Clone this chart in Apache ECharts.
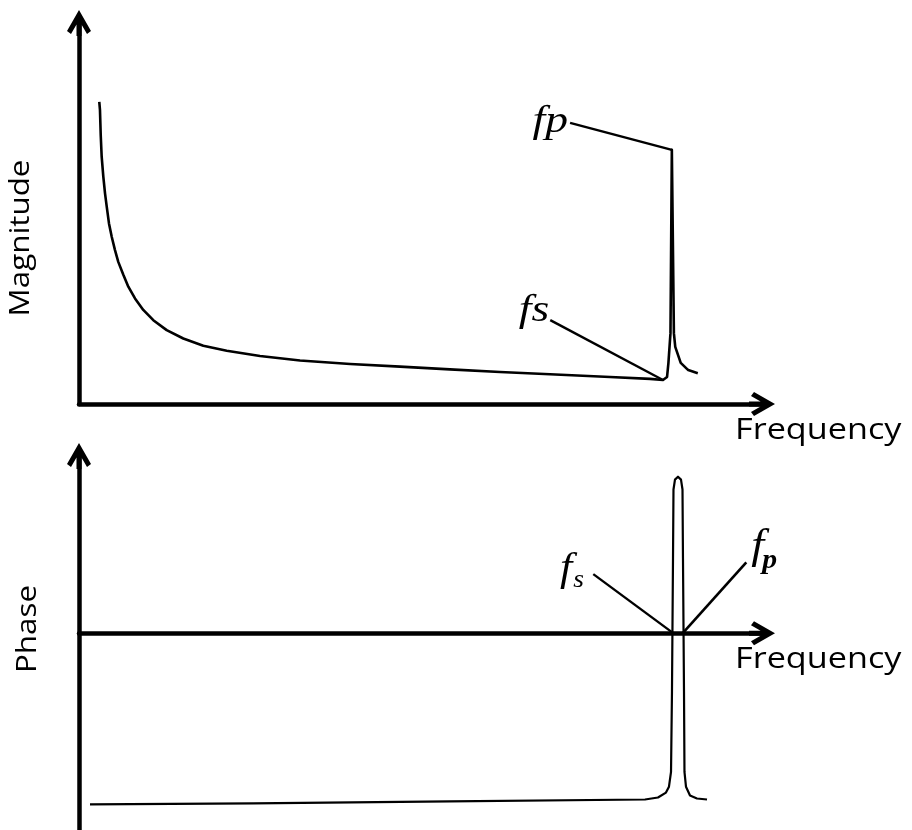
<!DOCTYPE html>
<html>
<head>
<meta charset="utf-8">
<script src="https://cdn.jsdelivr.net/npm/echarts@6/dist/echarts.min.js"></script>
<style>
  html, body { margin: 0; padding: 0; background: #fff; }
  #main { width: 912px; height: 830px; }
</style>
</head>
<body>
<div id="main"></div>
<script>
// Magnitude response of the resonator (arbitrary units)
const magFreq = [2.97, 3.07, 3.18, 3.32, 3.56, 3.81, 4.06, 4.39, 4.79, 5.27, 5.75, 6.49, 7.22, 8.2,
  9.41, 10.88, 12.84, 15.27, 18.2, 21.63, 26.5, 32.36, 39.7, 47.0, 54.3, 61.64, 68.96, 77.75, 83.6, 85.5,
  86.1, 86.3, 86.6, 86.8, 87.1, 87.3, 88.1, 89.2, 90.6];
const magValue = [79.3, 77.2, 70.6, 64.9, 59.7, 55.3, 51.8, 47.4, 43.9, 40.4, 37.3, 33.9, 30.8, 27.7,
  24.7, 22.0, 19.4, 17.2, 15.3, 14.0, 12.6, 11.4, 10.5, 9.8, 9.1, 8.4, 7.8, 7.1, 6.6, 6.3,
  7.1, 10.8, 18.6, 66.7, 18.6, 15.0, 10.8, 8.9, 8.1];

// Phase response (arbitrary units, zero on the frequency axis)
const phaseFreq = [1.61, 25.48, 54.3, 82.87, 84.77, 85.94, 86.38, 86.68, 86.82, 86.97, 87.04, 87.26,
  87.7, 88.14, 88.36, 88.43, 88.58, 88.65, 88.87, 89.46, 90.48, 91.95];
const phaseValue = [-87, -86.5, -85.5, -84.5, -83.5, -81, -78, -70.5, -29.5, 38, 73, 78,
  79.5, 78, 73, 38, -29.5, -70.5, -78, -82.5, -84, -84.5];

// Leader lines pointing at the series (fs) and parallel (fp) resonances: [freq, value]
const magFpLeader = [[71.9, 73.8], [86.8, 66.7]];
const magFsLeader = [[69.0, 22.0], [85.5, 6.3]];
const phaseFsLeader = [[75.3, 30], [87.0, 0]];
const phaseFpLeader = [[88.4, 0], [97.7, 36]];

// Axis titles
const magTitle = 'Magnitude';
const phaseTitle = 'Phase';
const freqTitle = 'Frequency';

const zip = (xs, ys) => xs.map((x, i) => [x, ys[i]]);

// open chevron arrow head with a short stem, pointing along the axis
const arrowHead = 'path://M13 0L25 21L21 24L15.5 14.4L15.5 26L10.5 26L10.5 14.4L5 24L1 21Z';

function makeAxis(gridIndex, min, max) {
  return {
    type: 'value', gridIndex, min, max,
    axisLine: {
      show: true, onZero: true,
      symbol: ['none', arrowHead], symbolSize: [24, 26],
      lineStyle: { color: '#000', width: 4.5 }
    },
    axisTick: { show: false },
    axisLabel: { show: false },
    splitLine: { show: false }
  };
}

function curve(data, gridIndex, width) {
  return {
    type: 'line', xAxisIndex: gridIndex, yAxisIndex: gridIndex,
    data, symbol: 'none', smooth: false,
    clip: false, silent: true,
    lineStyle: { color: '#000', width, join: 'round' }
  };
}

const chart = echarts.init(document.getElementById('main'), null, { renderer: 'canvas' });

chart.setOption({
  animation: false,
  backgroundColor: '#fff',
  grid: [
    { left: 79, right: 150, top: 23, bottom: 426 },
    { left: 79, right: 150, top: 456, bottom: -6 }
  ],
  xAxis: [makeAxis(0, 0, 100), makeAxis(1, 0, 100)],
  yAxis: [makeAxis(0, 0, 100), makeAxis(1, -100, 90)],
  series: [
    curve(zip(magFreq, magValue), 0, 2.6),
    curve(magFpLeader, 0, 2.4),
    curve(magFsLeader, 0, 2.4),
    curve(zip(phaseFreq, phaseValue), 1, 2.2),
    curve(phaseFsLeader, 1, 2.4),
    curve(phaseFpLeader, 1, 2.6)
  ]
});

// Text annotations, anchored on the leader-line ends
const at = (g, p) => chart.convertToPixel({ gridIndex: g }, p);
const serif = '"Liberation Serif", "DejaVu Serif", serif';
const sans = '"Open Sans", "Noto Sans", sans-serif';

function txt(text, x, y, font, align, extra) {
  return Object.assign({
    type: 'text', x, y, silent: true,
    style: { text, font, fill: '#000', align, verticalAlign: 'middle' }
  }, extra || {});
}

const pFpTop = at(0, magFpLeader[0]);
const pFsTop = at(0, magFsLeader[0]);
const pFsBot = at(1, phaseFsLeader[0]);
const pFpBot = at(1, phaseFpLeader[1]);
const xAxisTop = at(0, [100, 0]);
const xAxisBot = at(1, [100, 0]);

chart.setOption({
  graphic: [
    txt('fp', pFpTop[0] - 2, pFpTop[1] - 1, 'italic 38px ' + serif, 'right', { scaleX: 1.2 }),
    txt('fs', pFsTop[0] - 1, pFsTop[1] - 9, 'italic 38px ' + serif, 'right', { scaleX: 1.2 }),
    txt('f', pFsBot[0] - 21, pFsBot[1] - 5, 'italic 40px ' + serif, 'right', { scaleX: 1.1 }),
    txt('s', pFsBot[0] - 20, pFsBot[1] + 6, 'italic 25px ' + serif, 'left', { scaleX: 1.1 }),
    txt('f', pFpBot[0] + 5, pFpBot[1] - 15, 'italic 42px ' + serif, 'left', { scaleX: 1.1 }),
    txt('p', pFpBot[0] + 16, pFpBot[1] - 1, 'italic bold 27px ' + serif, 'left', { scaleX: 1.1 }),
    txt(freqTitle, xAxisTop[0] - 27, xAxisTop[1] + 26, '30px ' + sans, 'left', { scaleX: 1.14 }),
    txt(freqTitle, xAxisBot[0] - 27, xAxisBot[1] + 26, '30px ' + sans, 'left', { scaleX: 1.14 }),
    txt(magTitle, 21, 238, '27px ' + sans, 'center', { rotation: Math.PI / 2, scaleX: 1.16 }),
    txt(phaseTitle, 28, 629, '27px ' + sans, 'center', { rotation: Math.PI / 2, scaleX: 1.16 })
  ]
});
</script>
</body>
</html>
